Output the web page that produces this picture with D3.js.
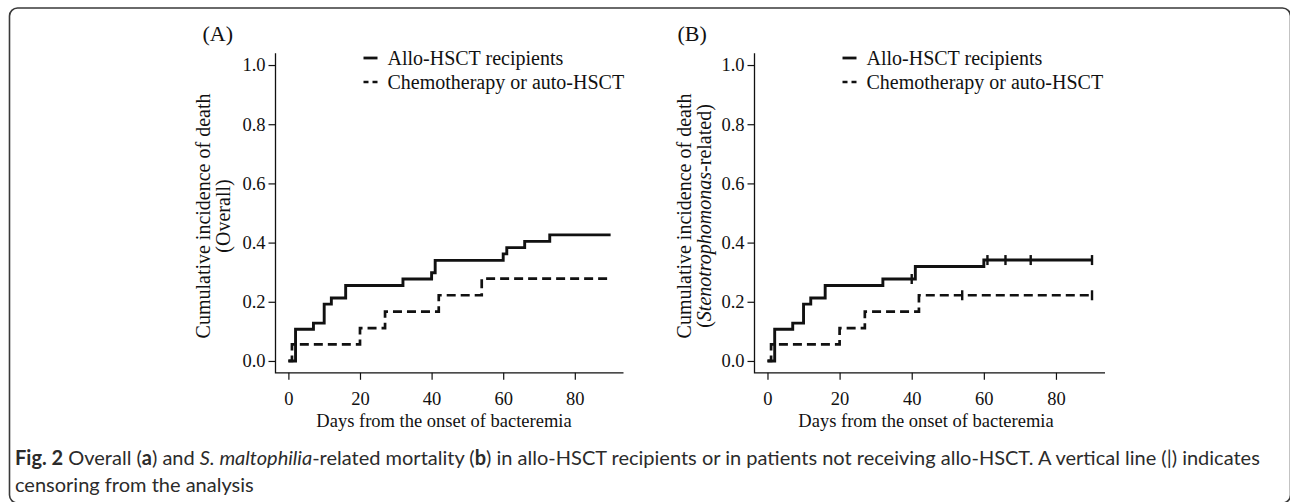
<!DOCTYPE html>
<html>
<head>
<meta charset="utf-8">
<script src="https://cdn.jsdelivr.net/npm/d3@7"></script>
<style>
  body { margin: 0; background: #fff; }
  svg { display: block; }
  .tick text { font-family: "Liberation Serif", "Times New Roman", serif; }
</style>
</head>
<body>
<div id="chart"></div>
<script>
// data: step times (days) and cumulative incidence
var xTicks = [0, 20, 40, 60, 80];
var yTicks = [0, 0.2, 0.4, 0.6, 0.8, 1.0];
var seriesNames = ["Allo-HSCT recipients", "Chemotherapy or auto-HSCT"];

// (A) overall
var alloTimesA = [0, 2, 7, 10, 12, 16, 32, 40, 41, 60, 61, 66, 73, 90];
var alloValuesA = [0, 0.107, 0.128, 0.192, 0.213, 0.255, 0.277, 0.298, 0.340, 0.362, 0.383, 0.404, 0.426, 0.426];
var chemoTimesA = [0, 1, 20, 27, 42, 54, 90];
var chemoValuesA = [0, 0.056, 0.111, 0.167, 0.222, 0.278, 0.278];

// (B) Stenotrophomonas-related
var alloTimesB = [0, 2, 7, 10, 12, 16, 32, 41, 60, 90];
var alloValuesB = [0, 0.107, 0.128, 0.192, 0.213, 0.255, 0.277, 0.319, 0.341, 0.341];
var chemoTimesB = [0, 1, 20, 27, 42, 90];
var chemoValuesB = [0, 0.056, 0.111, 0.167, 0.222, 0.222];
var alloCensorB = [40, 61, 66, 73, 90];
var chemoCensorB = [54, 90];

var svgWidth = 1290;
var svgHeight = 502;
var serif = '"Liberation Serif", "Times New Roman", serif';

var svg = d3.select("#chart")
  .append("svg")
  .attr("width", svgWidth)
  .attr("height", svgHeight);

svg.append("rect")
  .attr("width", svgWidth)
  .attr("height", svgHeight)
  .attr("fill", "#fff");

// outer figure frame (rounded box running off the right / bottom edges)
svg.append("rect")
  .attr("x", 9.5)
  .attr("y", 8)
  .attr("width", 1281)
  .attr("height", 495)
  .attr("rx", 8)
  .attr("fill", "none")
  .attr("stroke", "#3a3a3a")
  .attr("stroke-width", 1.6);

function toPoints(times, values) {
  return times.map((t, i) => [t, values[i]]);
}

function valueAt(times, values, t) {
  var v = values[0];
  times.forEach(function(tt, i) {
    if (tt <= t) v = values[i];
  });
  return v;
}

function drawPanel(p) {
  var x = d3.scaleLinear().domain([-3.6, 93.6]).range([p.left, p.right]);
  var y = d3.scaleLinear().domain([-0.04, 1.04]).range([372.8, 53.2]);

  var g = svg.append("g");

  // Step 1: axes (L shaped box)
  var leftAxis = d3.axisLeft(y)
    .tickValues(yTicks)
    .tickFormat(d3.format(".1f"))
    .tickSize(7)
    .tickPadding(3);

  var bottomAxis = d3.axisBottom(x)
    .tickValues(xTicks)
    .tickSize(7)
    .tickPadding(12);

  var ya = g.append("g")
    .attr("transform", `translate(${p.left}, 0)`)
    .call(leftAxis);

  var xa = g.append("g")
    .attr("transform", `translate(0, ${y(-0.04)})`)
    .call(bottomAxis);

  [ya, xa].forEach(function(a) {
    a.select(".domain").remove();
    a.selectAll(".tick line").attr("stroke", "#111").attr("stroke-width", 1.2);
    a.selectAll(".tick text")
      .attr("fill", "#111")
      .style("font-size", "18.5px");
  });

  g.append("path")
    .attr("d", `M${p.left},${y(1.04)}V${y(-0.04)}H${p.right}`)
    .attr("fill", "none")
    .attr("stroke", "#111")
    .attr("stroke-width", 1.3);

  // Step 2: step curves
  var line = d3.line()
    .x(d => x(d[0]))
    .y(d => y(d[1]))
    .curve(d3.curveStepAfter);

  g.append("path")
    .datum(toPoints(p.chemoTimes, p.chemoValues))
    .attr("d", line)
    .attr("fill", "none")
    .attr("stroke", "#111")
    .attr("stroke-width", 2.7)
    .attr("stroke-dasharray", "9,5");

  g.append("path")
    .datum(toPoints(p.alloTimes, p.alloValues))
    .attr("d", line)
    .attr("fill", "none")
    .attr("stroke", "#111")
    .attr("stroke-width", 2.9);

  // censoring marks
  var marks = p.alloCensor.map(t => [t, valueAt(p.alloTimes, p.alloValues, t)])
    .concat(p.chemoCensor.map(t => [t, valueAt(p.chemoTimes, p.chemoValues, t)]));

  g.selectAll(".censor")
    .data(marks)
    .enter()
    .append("line")
    .attr("class", "censor")
    .attr("x1", d => x(d[0]))
    .attr("x2", d => x(d[0]))
    .attr("y1", d => y(d[1]) - 5)
    .attr("y2", d => y(d[1]) + 5)
    .attr("stroke", "#111")
    .attr("stroke-width", 2.4);

  // Step 3: legend
  var lx = p.left + 88;
  var rows = [58, 82];
  g.append("line")
    .attr("x1", lx).attr("x2", lx + 14)
    .attr("y1", rows[0]).attr("y2", rows[0])
    .attr("stroke", "#111").attr("stroke-width", 2.8);
  g.append("line")
    .attr("x1", lx).attr("x2", lx + 14)
    .attr("y1", rows[1]).attr("y2", rows[1])
    .attr("stroke", "#111").attr("stroke-width", 2.6)
    .attr("stroke-dasharray", "5,4");

  g.selectAll(".legtext")
    .data(seriesNames)
    .enter()
    .append("text")
    .attr("class", "legtext")
    .attr("x", lx + 24)
    .attr("y", (d, i) => rows[i] + 7)
    .style("font-family", serif)
    .style("font-size", "20px")
    .attr("fill", "#111")
    .text(d => d);

  // Step 4: panel letter and axis titles
  g.append("text")
    .attr("x", p.left - p.letterOffset)
    .attr("y", 41)
    .style("font-family", serif)
    .style("font-size", "22px")
    .attr("fill", "#111")
    .text(p.letter);

  g.append("text")
    .attr("x", p.titleX)
    .attr("y", 427)
    .style("font-family", serif)
    .style("font-size", "18.5px")
    .style("text-anchor", "middle")
    .attr("fill", "#111")
    .text("Days from the onset of bacteremia");

  g.append("text")
    .attr("transform", `translate(${p.left - p.yOff1}, 216) rotate(-90)`)
    .style("font-family", serif)
    .style("font-size", "20px")
    .style("text-anchor", "middle")
    .attr("fill", "#111")
    .text("Cumulative incidence of death");

  var sub = g.append("text")
    .attr("transform", `translate(${p.left - p.yOff2}, 216) rotate(-90)`)
    .style("font-family", serif)
    .style("font-size", "20px")
    .style("text-anchor", "middle")
    .attr("fill", "#111");
  p.subtitle.forEach(function(s) {
    sub.append("tspan")
      .style("font-style", s[1] ? "italic" : "normal")
      .text(s[0]);
  });
}

drawPanel({
  left: 275.5, right: 623.5, letter: "(A)", letterOffset: 73, titleX: 444,
  yOff1: 66, yOff2: 46,
  subtitle: [["(Overall)", false]],
  alloTimes: alloTimesA, alloValues: alloValuesA,
  chemoTimes: chemoTimesA, chemoValues: chemoValuesA,
  alloCensor: [], chemoCensor: []
});

drawPanel({
  left: 754.5, right: 1105, letter: "(B)", letterOffset: 77, titleX: 926,
  yOff1: 64, yOff2: 44,
  subtitle: [["(", false], ["Stenotrophomonas", true], ["-related)", false]],
  alloTimes: alloTimesB, alloValues: alloValuesB,
  chemoTimes: chemoTimesB, chemoValues: chemoValuesB,
  alloCensor: alloCensorB, chemoCensor: chemoCensorB
});

// Caption
var cap = svg.append("text")
  .attr("x", 15)
  .attr("y", 465)
  .style("font-family", "Lato, 'Noto Sans', sans-serif")
  .style("font-size", "20px")
  .attr("fill", "#2b2b2b");

var capParts = [
  ["Fig. 2", "b"], [" Overall (", ""], ["a", "b"], [") and ", ""], ["S. maltophilia", "i"],
  ["-related mortality (", ""], ["b", "b"],
  [") in allo-HSCT recipients or in patients not receiving allo-HSCT. A vertical line (|) indicates", ""]
];
capParts.forEach(function(c) {
  cap.append("tspan")
    .style("font-weight", c[1] == "b" ? "bold" : "normal")
    .style("font-style", c[1] == "i" ? "italic" : "normal")
    .text(c[0]);
});

svg.append("text")
  .attr("x", 15)
  .attr("y", 491.5)
  .style("font-family", "Lato, 'Noto Sans', sans-serif")
  .style("font-size", "20px")
  .attr("fill", "#2b2b2b")
  .text("censoring from the analysis");
</script>
</body>
</html>
